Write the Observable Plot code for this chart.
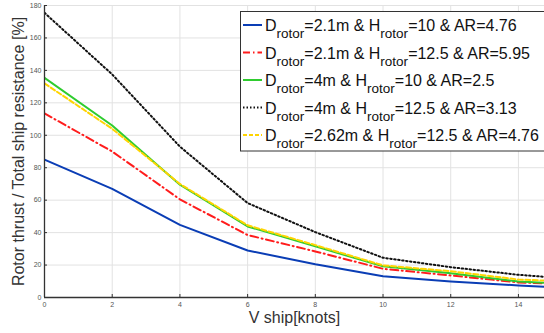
<!DOCTYPE html>
<html>
<head>
<meta charset="utf-8">
<script src="https://cdn.jsdelivr.net/npm/d3@7"></script>
<script src="https://cdn.jsdelivr.net/npm/@observablehq/plot@0.6"></script>
<style>
  html, body { margin: 0; padding: 0; background: white; }
  #chart { width: 544px; height: 333px; overflow: hidden; }
</style>
</head>
<body>
<div id="chart"></div>
<script>
// Data
const speeds = [0, 2, 4, 6, 8, 10, 12, 14, 15];
const seriesBlue   = [85, 67, 44.8, 29, 20.5, 13.1, 9.9, 7.4, 6.3];
const seriesRed    = [113.5, 90, 60.5, 38.5, 28.4, 17.7, 13.6, 9.3, 8.5];
const seriesGreen  = [135.4, 106, 69.5, 43.8, 31.5, 19.2, 15.0, 9.8, 8.9];
const seriesBlack  = [175.5, 137.5, 93, 58.2, 40.3, 24.5, 18.7, 14, 12.4];
const seriesYellow = [132, 104, 70, 44.5, 32.3, 19.8, 16.2, 11.1, 10.2];
const xTicks = [0, 2, 4, 6, 8, 10, 12, 14];
const yTicks = [0, 20, 40, 60, 80, 100, 120, 140, 160, 180];
const legendParts = [
  ["2.1m", "10", "4.76"],
  ["2.1m", "12.5", "5.95"],
  ["4m", "10", "2.5"],
  ["4m", "12.5", "3.13"],
  ["2.62m", "12.5", "4.76"]
];

const styles = [
  {values: seriesBlue,   color: "#0a3db5", dash: null,            legendDash: null},
  {values: seriesRed,    color: "#ff1c1c", dash: "8,3.5,1,3.5",   legendDash: "7,3,1.5,3"},
  {values: seriesGreen,  color: "#2fcc2f", dash: null,            legendDash: null},
  {values: seriesBlack,  color: "#111111", dash: "1.5,2.5",       legendDash: "1.5,2"},
  {values: seriesYellow, color: "#ffd400", dash: "5,2.5",         legendDash: "4,2"}
];

const toRows = vals => speeds.map((x, i) => ({x, y: vals[i]}));

const lineMarks = styles.map(s => Plot.line(toRows(s.values), {
  x: "x", y: "y", stroke: s.color, strokeWidth: 2,
  strokeDasharray: s.dash || undefined, clip: true
}));

const fontFam = "'Liberation Sans', Arial, sans-serif";
const tickColor = "#555";
const plot = Plot.plot({
  width: 544, height: 333,
  marginLeft: 44, marginRight: 0, marginTop: 5, marginBottom: 36,
  style: {fontFamily: fontFam, background: "white", overflow: "visible"},
  x: {domain: [0, 14.77]},
  y: {domain: [0, 180]},
  marks: [
    Plot.gridX(xTicks, {stroke: "#e2e2e2", strokeOpacity: 1, strokeWidth: 1}),
    Plot.gridY(yTicks, {stroke: "#e2e2e2", strokeOpacity: 1, strokeWidth: 1}),
    ...lineMarks,
    Plot.axisX(xTicks, {tickSize: 0, tickPadding: 5, fontSize: 7, fill: tickColor, label: null}),
    Plot.axisX(xTicks, {tickSize: 3, dy: -3, text: null, stroke: "#333", label: null}),
    Plot.axisY(yTicks, {tickSize: 0, tickPadding: 3, fontSize: 7, fill: tickColor, label: null}),
    Plot.axisY(yTicks, {tickSize: 3, dx: 3, text: null, stroke: "#333", label: null}),
    Plot.ruleX([0], {stroke: "#333", strokeWidth: 1.3}),
    Plot.ruleY([0], {stroke: "#333", strokeWidth: 1.3}),
    Plot.text(["V ship[knots]"], {frameAnchor: "bottom", dy: 25, fontSize: 16, fill: "#333"}),
    Plot.text(["Rotor thrust / Total ship resistance [%]"], {frameAnchor: "left", textAnchor: "middle", rotate: -90, dx: -26, fontSize: 16, fill: "#333"})
  ]
});

document.getElementById("chart").appendChild(plot);

// Legend drawn in the SVG
const svg = d3.select(plot);
const lg = svg.append("g").attr("font-family", fontFam).attr("text-anchor", "start");
lg.append("rect").attr("x", 240.5).attr("y", 11.5).attr("width", 330).attr("height", 139.5)
  .attr("fill", "white").attr("stroke", "#333").attr("stroke-width", 1);
legendParts.forEach((p, i) => {
  const cy = 25 + i * 27.5;
  const s = styles[i];
  lg.append("line").attr("x1", 243).attr("x2", 262).attr("y1", cy).attr("y2", cy)
    .attr("stroke", s.color).attr("stroke-width", 2)
    .attr("stroke-dasharray", s.legendDash);
  const t = lg.append("text").attr("x", 265).attr("y", cy + 6).attr("fill", "#111").attr("font-size", 16);
  t.append("tspan").text("D");
  t.append("tspan").attr("font-size", 13.5).attr("dy", 7).text("rotor");
  t.append("tspan").attr("dy", -7).text(`=${p[0]} & H`);
  t.append("tspan").attr("font-size", 13.5).attr("dy", 7).text("rotor");
  t.append("tspan").attr("dy", -7).text(`=${p[1]} & AR=${p[2]}`);
});
</script>
</body>
</html>
